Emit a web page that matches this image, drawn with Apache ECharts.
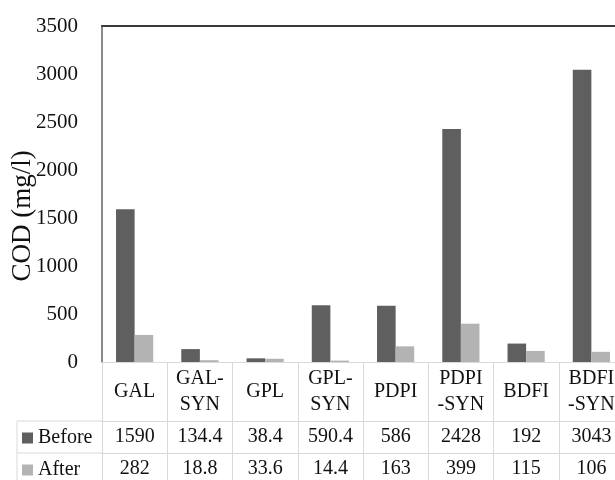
<!DOCTYPE html>
<html>
<head>
<meta charset="utf-8">
<script src="https://cdn.jsdelivr.net/npm/echarts@6/dist/echarts.min.js"></script>
<style>
  html, body { margin: 0; padding: 0; background: #ffffff; }
  #chart { width: 615px; height: 480px; }
</style>
</head>
<body>
<div id="chart"></div>
<script>
// Samples and the two measurement series
const categories = ['GAL', 'GAL-\nSYN', 'GPL', 'GPL-\nSYN', 'PDPI', 'PDPI\n-SYN', 'BDFI', 'BDFI\n-SYN'];
const seriesNames = ['Before', 'After'];
const beforeValues = [1590, 134.4, 38.4, 590.4, 586, 2428, 192, 3043];
const afterValues = [282, 18.8, 33.6, 14.4, 163, 399, 115, 106];
const yMin = 0, yMax = 3500, yStep = 500;
const yTitle = 'COD (mg/l)';

// Layout and styling
const FONT = '"Liberation Serif", "Times New Roman", serif';
const GRID = { left: 102, top: 26, width: 522, height: 336 };
const HEAD_ROW = 59;   // row holding the category names
const ROW = 32;        // each data-table row
const LEGEND_LEFT = 17;
const TITLE_X = 23, TITLE_Y = 216;
const TABLE_LINE = '#d9d9d9';
const COLORS = ['#5f5f5f', '#b3b3b3'];
const TEXT = '#111111';

// A bottom category axis used as one row of the data table:
// its line is the row's top border and its ticks are the cell dividers.
function tableRowAxis(labels, offset, rowHeight) {
  return {
    type: 'category',
    gridIndex: 0,
    position: 'bottom',
    offset: offset,
    data: labels,
    axisLine: { show: true, lineStyle: { color: TABLE_LINE, width: 1 } },
    axisTick: { show: true, interval: 0, length: rowHeight, lineStyle: { color: TABLE_LINE, width: 1 } },
    axisLabel: {
      interval: 0, margin: rowHeight / 2, verticalAlign: 'middle',
      fontFamily: FONT, fontSize: 20, color: TEXT, lineHeight: 26
    },
    splitLine: { show: false }
  };
}

const chart = echarts.init(document.getElementById('chart'), null, { renderer: 'canvas' });

const gridBottom = GRID.top + GRID.height;
const beforeRowTop = gridBottom + HEAD_ROW;
const afterRowTop = beforeRowTop + ROW;

chart.setOption({
  backgroundColor: '#ffffff',
  animation: false,
  textStyle: { fontFamily: FONT },
  grid: {
    left: GRID.left, top: GRID.top, width: GRID.width, height: GRID.height,
    containLabel: false, outerBoundsMode: 'none'
  },
  legend: {
    data: seriesNames,
    orient: 'vertical',
    left: LEGEND_LEFT + 5,
    top: beforeRowTop + 7,
    padding: 0,
    itemGap: 12,
    itemWidth: 11,
    itemHeight: 11,
    icon: 'rect',
    selectedMode: false,
    textStyle: { fontFamily: FONT, fontSize: 20, color: TEXT }
  },
  xAxis: [
    tableRowAxis(categories, 0, HEAD_ROW),
    tableRowAxis(beforeValues.map(String), HEAD_ROW, ROW),
    tableRowAxis(afterValues.map(String), HEAD_ROW + ROW, ROW),
    {
      // plain top border of the plot area
      type: 'category', gridIndex: 0, position: 'top', data: categories,
      axisLine: { show: true, lineStyle: { color: '#3a3a3a', width: 2 } },
      axisTick: { show: false }, axisLabel: { show: false }, splitLine: { show: false }
    }
  ],
  yAxis: {
    type: 'value',
    min: yMin, max: yMax, interval: yStep,
    axisLine: { show: true, lineStyle: { color: '#8a8a8a', width: 2 } },
    axisTick: { show: false },
    splitLine: { show: false },
    axisLabel: {
      margin: 24, fontFamily: FONT, fontSize: 21, color: TEXT,
      formatter: function (v) { return String(v); }
    }
  },
  series: [
    {
      name: seriesNames[0], type: 'bar', xAxisIndex: 0, data: beforeValues,
      barGap: '0%', barCategoryGap: '43%',
      itemStyle: { color: COLORS[0] }
    },
    {
      name: seriesNames[1], type: 'bar', xAxisIndex: 0, data: afterValues,
      barGap: '0%', barCategoryGap: '43%',
      itemStyle: { color: COLORS[1] }
    }
  ],
  graphic: [
    {
      // vertical value-axis title
      type: 'text', silent: true,
      x: TITLE_X, y: TITLE_Y, rotation: Math.PI / 2,
      style: {
        text: yTitle, fill: TEXT, font: '27px ' + FONT,
        align: 'center', verticalAlign: 'middle'
      }
    },
    {
      // legend column borders of the data table
      type: 'polyline', silent: true,
      shape: { points: [[GRID.left, beforeRowTop], [LEGEND_LEFT, beforeRowTop], [LEGEND_LEFT, afterRowTop + ROW]] },
      style: { stroke: TABLE_LINE, lineWidth: 1, fill: null }
    },
    {
      type: 'line', silent: true,
      shape: { x1: LEGEND_LEFT, y1: afterRowTop, x2: GRID.left, y2: afterRowTop },
      style: { stroke: TABLE_LINE, lineWidth: 1 }
    }
  ]
});
</script>
</body>
</html>
